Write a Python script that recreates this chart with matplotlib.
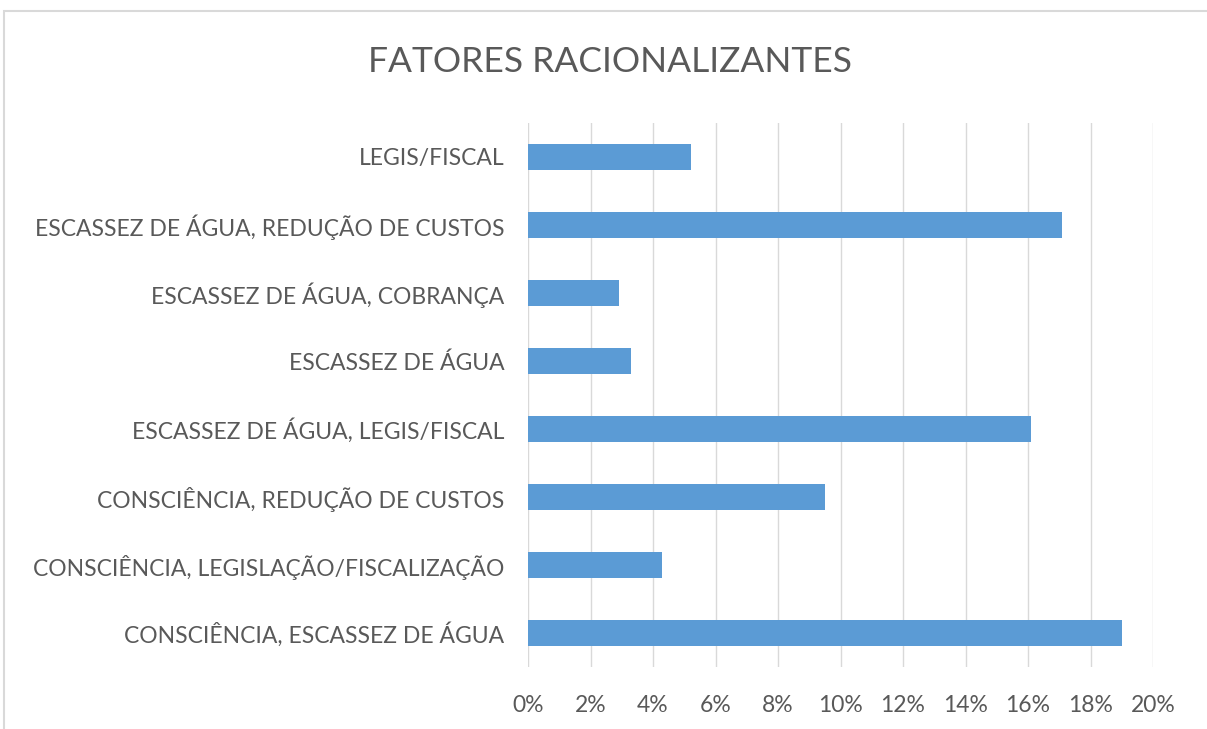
import matplotlib
matplotlib.use("Agg")
import matplotlib.pyplot as plt
from matplotlib.patches import Rectangle
from matplotlib.ticker import FuncFormatter, MultipleLocator

categories = [
    "CONSCIÊNCIA, ESCASSEZ DE ÁGUA",
    "CONSCIÊNCIA, LEGISLAÇÃO/FISCALIZAÇÃO",
    "CONSCIÊNCIA, REDUÇÃO DE CUSTOS",
    "ESCASSEZ DE ÁGUA, LEGIS/FISCAL",
    "ESCASSEZ DE ÁGUA",
    "ESCASSEZ DE ÁGUA, COBRANÇA",
    "ESCASSEZ DE ÁGUA, REDUÇÃO DE CUSTOS",
    "LEGIS/FISCAL",
]
values = [0.190, 0.043, 0.095, 0.161, 0.033, 0.029, 0.171, 0.052]
title = "FATORES RACIONALIZANTES"

plt.rcParams['font.family'] = ['Lato', 'DejaVu Sans']
gray = "#595959"

fig = plt.figure(figsize=(12.07, 7.29), dpi=100)
fig.patches.append(Rectangle((4/1207, -0.1), 1.2, 1 - 11/729 + 0.1, transform=fig.transFigure,
                             fill=False, edgecolor="#d9d9d9", linewidth=1.5))
ax = fig.add_axes([528/1207, 1 - 667/729, (1153-528)/1207, (667-123)/729])
ax.barh(range(len(categories)), values, height=0.37, color="#5b9bd5")
ax.set_xlim(0, 0.20)
ax.set_ylim(-0.5, len(categories) - 0.5)
ax.xaxis.set_major_locator(MultipleLocator(0.02))
ax.xaxis.set_major_formatter(FuncFormatter(lambda v, p: f"{v*100:.0f}%"))
ax.set_yticks(range(len(categories)))
ax.set_yticklabels(categories)
ax.grid(axis='x', color="#d9d9d9", linewidth=1)
ax.set_axisbelow(True)
for s in ax.spines.values():
    s.set_visible(False)
ax.tick_params(axis='both', length=0, labelcolor=gray)
ax.tick_params(axis='y', labelsize=16.5, pad=17)
ax.tick_params(axis='x', labelsize=16.5, pad=20)
fig.text(0.5054, 1 - 62/729, title, ha='center', va='center', fontsize=25.5, color=gray)
fig.savefig("out.png", dpi=100)
